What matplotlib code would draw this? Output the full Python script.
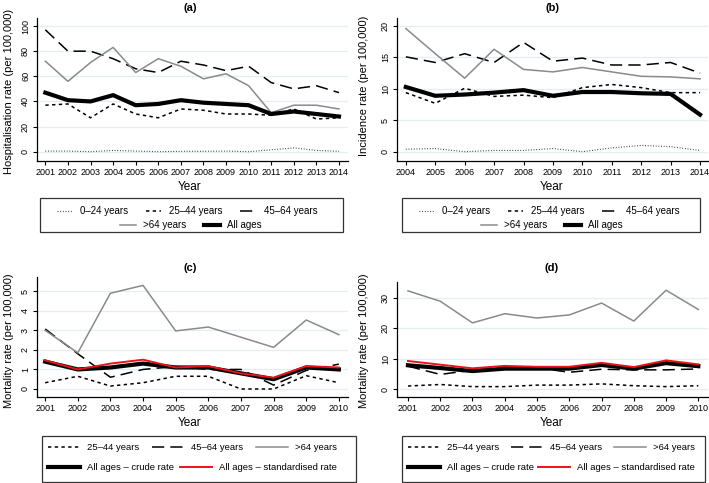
import numpy as np
import matplotlib
matplotlib.use('Agg')
import matplotlib.pyplot as plt
from matplotlib.patches import Rectangle

plt.rcParams['font.family'] = ['Liberation Sans', 'DejaVu Sans']

# (a) hospitalisation rate
years_a = list(range(2001, 2015))
hosp_0_24 = [0.5, 0.5, 0.0, 1.0, 0.5, 0.0, 0.3, 0.3, 0.5, 0.0, 1.5, 3.0, 1.0, 0.3]
hosp_25_44 = [37, 38, 27, 38, 30, 27, 34, 33, 30, 30, 29, 34, 26, 27]
hosp_45_64 = [97, 80, 80, 74, 66, 63, 72, 69, 64.5, 68, 55, 50, 52.5, 47]
hosp_64p = [72, 56, 71, 83, 63, 74, 68, 58, 62, 52.5, 31, 37, 37, 34]
hosp_all = [47, 41, 40, 45, 37, 38, 41, 39, 38, 37, 30, 32, 30, 28]

# (b) incidence rate
years_b = list(range(2004, 2015))
inc_0_24 = [0.4, 0.5, 0.0, 0.2, 0.2, 0.5, 0.0, 0.6, 1.0, 0.8, 0.2]
inc_25_44 = [9.4, 7.7, 10.1, 8.8, 9.0, 8.6, 10.2, 10.7, 10.2, 9.4, 9.4]
inc_45_64 = [15.1, 14.2, 15.6, 14.2, 17.4, 14.4, 14.9, 13.8, 13.8, 14.2, 12.5]
inc_64p = [19.6, 15.6, 11.7, 16.3, 13.1, 12.7, 13.4, 12.7, 12.0, 11.9, 11.6]
inc_all = [10.3, 8.9, 9.1, 9.4, 9.8, 8.9, 9.5, 9.5, 9.3, 9.2, 5.9]

# (c) mortality rate
years_cd = list(range(2001, 2011))
mort_c_25_44 = [0.32, 0.65, 0.15, 0.32, 0.65, 0.65, 0.0, 0.0, 0.68, 0.32]
mort_c_45_64 = [3.07, 1.8, 0.6, 1.0, 1.15, 1.0, 1.0, 0.2, 0.95, 1.27]
mort_c_64p = [3.0, 1.85, 4.9, 5.3, 2.97, 3.17, 2.65, 2.13, 3.53, 2.78]
mort_c_crude = [1.4, 1.0, 1.1, 1.3, 1.1, 1.1, 0.8, 0.5, 1.1, 1.0]
mort_c_std = [1.47, 1.0, 1.3, 1.5, 1.1, 1.17, 0.8, 0.58, 1.17, 1.1]

# (d) mortality rate
mort_d_25_44 = [1.0, 1.5, 0.8, 0.8, 1.3, 1.3, 1.7, 1.1, 0.8, 1.1]
mort_d_45_64 = [7.5, 4.8, 6.2, 7.5, 7.0, 5.5, 6.5, 6.3, 6.3, 6.6]
mort_d_64p = [32.2, 28.8, 21.7, 24.7, 23.3, 24.3, 28.2, 22.3, 32.4, 26.1]
mort_d_crude = [7.8, 6.9, 5.9, 6.7, 6.7, 6.7, 7.9, 6.7, 8.5, 7.5]
mort_d_std = [9.2, 8.0, 6.8, 7.6, 7.3, 7.3, 8.6, 7.2, 9.4, 8.1]

W, H = 709, 483
fig = plt.figure(figsize=(W / 100, H / 100), dpi=100)
GRID = '#e3eef0'
GRAY = '#8a8a8a'


def px(x0, y0, x1, y1):
    # pixel box -> figure fraction rect
    return [x0 / W, 1 - y1 / H, (x1 - x0) / W, (y1 - y0) / H]


def style_axes(ax, yticks, xticks):
    for s in ['top', 'right']:
        ax.spines[s].set_visible(False)
    for s in ['left', 'bottom']:
        ax.spines[s].set_linewidth(0.9)
    ax.set_yticks(yticks)
    ax.set_xticks(xticks)
    ax.tick_params(axis='both', labelsize=6.5, length=3, width=0.8, pad=2)
    for lab in ax.get_yticklabels():
        lab.set_rotation(90)
        lab.set_va('center')
    ax.grid(axis='y', color=GRID, linewidth=0.9)
    ax.set_axisbelow(True)


def age_lines(ax, yrs, s0, s1, s2, s3):
    h = []
    if s0 is not None:
        h += ax.plot(yrs, s0, color='#333333', lw=0.8, dashes=(0.8, 1.6), label='0–24 years')
    h += ax.plot(yrs, s1, color='black', lw=1.1, dashes=(2.2, 2.2), label='25–44 years')
    h += ax.plot(yrs, s2, color='black', lw=1.1, dashes=(8, 4), label='45–64 years')
    h += ax.plot(yrs, s3, color=GRAY, lw=1.1, label='>64 years')
    return h


def legend_box(x0, y0, x1, y1):
    fig.add_artist(Rectangle((x0 / W, 1 - y1 / H), (x1 - x0) / W, (y1 - y0) / H,
                             transform=fig.transFigure, fill=False, lw=0.9, ec='#333333'))


def row_legend(handles, labels, cx, cy, fs, **kw):
    fig.legend(handles, labels, loc='center', bbox_to_anchor=(cx / W, 1 - cy / H),
               ncol=len(handles), frameon=False, fontsize=fs, borderpad=0,
               handletextpad=0.8, **kw)


def texts(cx, ty, yx, ly, lx_mid, label, title):
    fig.text(cx / W, 1 - ty / H, title, ha='center', va='center', fontsize=8, weight='bold')
    fig.text(cx / W, 1 - ly / H, 'Year', ha='center', va='center', fontsize=8.5)
    fig.text(yx / W, 1 - lx_mid / H, label, ha='center', va='center', rotation=90, fontsize=8)


# ---- (a)
ax = fig.add_axes(px(37, 18, 348, 161))
h = age_lines(ax, years_a, hosp_0_24, hosp_25_44, hosp_45_64, hosp_64p)
h += ax.plot(years_a, hosp_all, color='black', lw=3, label='All ages')
ax.set_xlim(2000.63, 2014.4)
ax.set_ylim(-7.4, 106.4)
style_axes(ax, range(0, 101, 20), years_a)
texts(190, 8, 9, 187, 91, 'Hospitalisation rate (per 100,000)', '(a)')
legend_box(40, 198, 343, 232)
labs = [l.get_label() for l in h]
row_legend(h[:3], labs[:3], 187, 211, 7, handlelength=1.6, columnspacing=1.8)
row_legend(h[3:], labs[3:], 191, 225, 7, handlelength=1.6, columnspacing=1.8)

# ---- (b)
ax = fig.add_axes(px(397, 18, 708, 161))
h = age_lines(ax, years_b, inc_0_24, inc_25_44, inc_45_64, inc_64p)
h += ax.plot(years_b, inc_all, color='black', lw=3, label='All ages')
ax.set_xlim(2003.7, 2014.27)
ax.set_ylim(-1.48, 21.28)
style_axes(ax, range(0, 21, 5), years_b)
texts(552, 8, 364, 187, 86, 'Incidence rate (per 100,000)', '(b)')
legend_box(402, 198, 700, 232)
labs = [l.get_label() for l in h]
row_legend(h[:3], labs[:3], 549, 211, 7, handlelength=1.6, columnspacing=1.8)
row_legend(h[3:], labs[3:], 552, 225, 7, handlelength=1.6, columnspacing=1.8)


def mort_panel(rect, yrs, s1, s2, s3, crude, std, xlim, ylim, yticks, cx, yx, box, span, title):
    ax = fig.add_axes(rect)
    h = age_lines(ax, yrs, None, s1, s2, s3)
    h += ax.plot(yrs, crude, color='black', lw=3, label='All ages – crude rate')
    h += ax.plot(yrs, std, color='#e8141a', lw=1.4, label='All ages – standardised rate')
    ax.set_xlim(*xlim)
    ax.set_ylim(*ylim)
    style_axes(ax, yticks, yrs)
    texts(cx, 268, yx, 423, 341, 'Mortality rate (per 100,000)', title)
    legend_box(*box)
    labs = [l.get_label() for l in h]
    x0, x1 = span
    for sl, ncol, cy in [(slice(0, 3), 3, 448), (slice(3, 5), 2, 468)]:
        fig.legend(h[sl], labs[sl], loc='center',
                   bbox_to_anchor=(x0 / W, 1 - cy / H, (x1 - x0) / W, 0.001),
                   mode='expand', ncol=ncol, frameon=False, fontsize=6.8, borderpad=0,
                   borderaxespad=0, handletextpad=0.75, handlelength=3.4)


mort_panel(px(37, 277, 348, 397), years_cd, mort_c_25_44, mort_c_45_64, mort_c_64p,
           mort_c_crude, mort_c_std, (2000.75, 2010.28), (-0.41, 5.73), range(0, 6),
           190, 9, (42, 436, 356, 482), (48, 337), '(c)')
mort_panel(px(397, 282, 708, 397), years_cd, mort_d_25_44, mort_d_45_64, mort_d_64p,
           mort_d_crude, mort_d_std, (2000.66, 2010.3), (-2.6, 35.1), range(0, 31, 10),
           552, 364, (402, 436, 705, 482), (408, 695), '(d)')

fig.savefig('out.png', dpi=100)
